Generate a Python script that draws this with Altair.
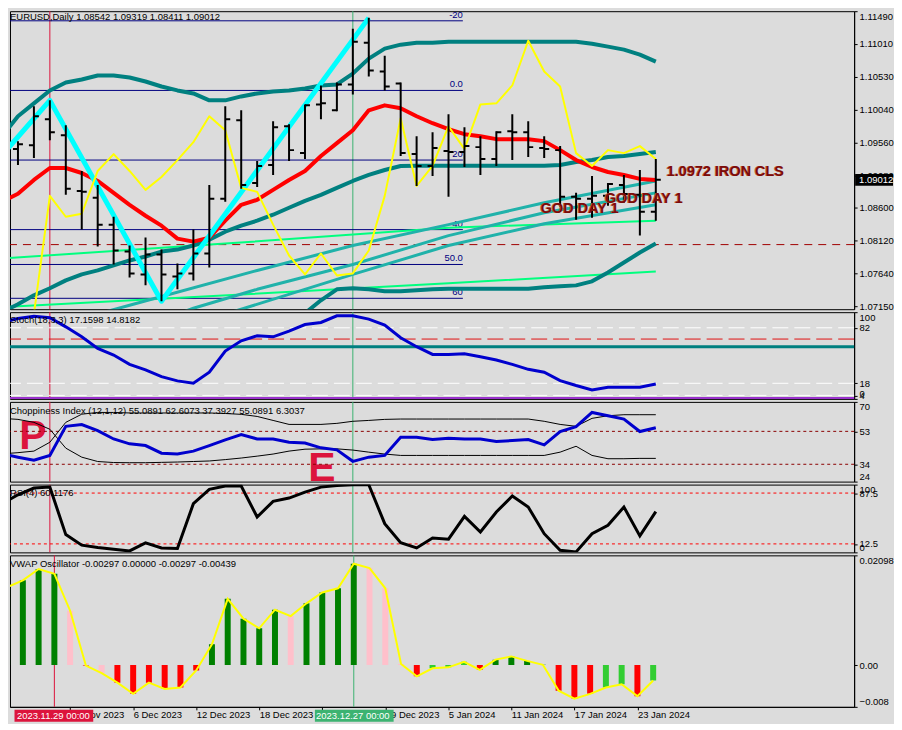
import altair as alt
import pandas as pd

# ---------------------------------------------------------------- data
dates = ["2023-11-24", "2023-11-27", "2023-11-28", "2023-11-29", "2023-11-30", "2023-12-01",
         "2023-12-04", "2023-12-05", "2023-12-06", "2023-12-07", "2023-12-08", "2023-12-11",
         "2023-12-12", "2023-12-13", "2023-12-14", "2023-12-15", "2023-12-18", "2023-12-19",
         "2023-12-20", "2023-12-21", "2023-12-22", "2023-12-26", "2023-12-27", "2023-12-28",
         "2023-12-29", "2024-01-02", "2024-01-03", "2024-01-04", "2024-01-05", "2024-01-08",
         "2024-01-09", "2024-01-10", "2024-01-11", "2024-01-12", "2024-01-15", "2024-01-16",
         "2024-01-17", "2024-01-18", "2024-01-19", "2024-01-22", "2024-01-23", "2024-01-24"]

opens = [1.09259, 1.09464, 1.09522, 1.09902, 1.09668, 1.08850, 1.08748, 1.08354, 1.07959, 1.07623,
         1.07915, 1.07594, 1.07638, 1.07930, 1.08733, 1.09888, 1.08967, 1.09230, 1.09800, 1.09405,
         1.10121, 1.10034, 1.10414, 1.11027, 1.10604, 1.10428, 1.09391, 1.09216, 1.09435, 1.09420,
         1.09493, 1.09318, 1.09727, 1.09712, 1.09479, 1.09449, 1.08763, 1.08733, 1.08777, 1.08938,
         1.08792, 1.08542]
highs = [1.09479, 1.09581, 1.10092, 1.10180, 1.09815, 1.09143, 1.08938, 1.08470, 1.08047, 1.08164,
         1.07988, 1.07784, 1.08281, 1.08938, 1.10092, 1.10034, 1.09289, 1.09873, 1.09830, 1.10121,
         1.10399, 1.10443, 1.11232, 1.11392, 1.10837, 1.10443, 1.09654, 1.09712, 1.09975, 1.09785,
         1.09654, 1.09727, 1.09975, 1.09873, 1.09654, 1.09508, 1.08821, 1.09069, 1.08967, 1.09084,
         1.09157, 1.09319]
lows = [1.08938, 1.09230, 1.09332, 1.09595, 1.08792, 1.08281, 1.08032, 1.07769, 1.07579, 1.07462,
        1.07229, 1.07404, 1.07535, 1.07725, 1.08690, 1.08880, 1.08909, 1.09084, 1.09289, 1.09318,
        1.09902, 1.10019, 1.10267, 1.10530, 1.10326, 1.09362, 1.08923, 1.09069, 1.08763, 1.09201,
        1.09084, 1.09216, 1.09303, 1.09347, 1.09332, 1.08617, 1.08427, 1.08456, 1.08631, 1.08675,
        1.08193, 1.08411]
closes = [1.09303, 1.09537, 1.09946, 1.09712, 1.08880, 1.08836, 1.08354, 1.07974, 1.07638, 1.07915,
          1.07623, 1.07638, 1.07930, 1.08733, 1.09902, 1.08938, 1.09216, 1.09785, 1.09449, 1.10107,
          1.10136, 1.10414, 1.11042, 1.10618, 1.10384, 1.09405, 1.09216, 1.09479, 1.09420, 1.09508,
          1.09318, 1.09712, 1.09712, 1.09493, 1.09464, 1.08763, 1.08733, 1.08777, 1.08953, 1.08806,
          1.08544, 1.09012]

ma_red = [1.08690, 1.08807, 1.09011, 1.09186, 1.09186, 1.09113, 1.08996, 1.08821, 1.08646, 1.08485,
          1.08339, 1.08149, 1.08105, 1.08164, 1.08412, 1.08646, 1.08719, 1.08865, 1.09011, 1.09143,
          1.09362, 1.09552, 1.09742, 1.10034, 1.10107, 1.10063, 1.09946, 1.09844, 1.09756, 1.09683,
          1.09654, 1.09610, 1.09610, 1.09610, 1.09581, 1.09449, 1.09303, 1.09201, 1.09128, 1.09084,
          1.09026, 1.09011]
band_upper = [1.09654, 1.09946, 1.10136, 1.10326, 1.10443, 1.10487, 1.10545, 1.10545, 1.10516, 1.10457,
              1.10384, 1.10326, 1.10282, 1.10180, 1.10180, 1.10238, 1.10282, 1.10311, 1.10326, 1.10355,
              1.10399, 1.10414, 1.10574, 1.10793, 1.10940, 1.10998, 1.11027, 1.11027, 1.11042, 1.11042,
              1.11042, 1.11042, 1.11042, 1.11042, 1.11042, 1.11042, 1.11042, 1.11013, 1.10969, 1.10925,
              1.10852, 1.10750]
band_mid = [1.07068, 1.07185, 1.07316, 1.07419, 1.07535, 1.07623, 1.07682, 1.07755, 1.07828, 1.07886,
            1.07959, 1.07988, 1.08047, 1.08134, 1.08251, 1.08339, 1.08412, 1.08500, 1.08602, 1.08704,
            1.08792, 1.08894, 1.08996, 1.09084, 1.09157, 1.09216, 1.09220, 1.09220, 1.09220, 1.09220,
            1.09220, 1.09220, 1.09220, 1.09220, 1.09220, 1.09230, 1.09274, 1.09303, 1.09347, 1.09362,
            1.09391, 1.09420]
band_lower_idx = list(range(18, 42))
band_lower = [1.06878, 1.07053, 1.07243, 1.07404, 1.07419, 1.07404, 1.07375, 1.07375, 1.07389, 1.07404,
              1.07411, 1.07411, 1.07411, 1.07411, 1.07411, 1.07411, 1.07433, 1.07448, 1.07462, 1.07521,
              1.07652, 1.07798, 1.07944, 1.08076]
yellow_idx = list(range(2, 42))
yellow = [1.07039, 1.08777, 1.08470, 1.08514, 1.09143, 1.09391, 1.09143, 1.08865, 1.09055, 1.09303,
          1.09566, 1.09946, 1.09742, 1.08894, 1.08836, 1.08354, 1.07901, 1.07623, 1.07930, 1.07608,
          1.07638, 1.07974, 1.08777, 1.09917, 1.08923, 1.09216, 1.09800, 1.09464, 1.10121, 1.10136,
          1.10399, 1.11056, 1.10604, 1.10384, 1.09405, 1.09216, 1.09449, 1.09405, 1.09508, 1.09318]
zigzag_idx = [0, 3, 10, 23]
zigzag = [1.09376, 1.10180, 1.07229, 1.11392]

green_a_idx = [0, 14, 28, 41]
green_a = [1.07857, 1.08076, 1.08310, 1.08412]
green_b_idx = [0, 28, 41]
green_b = [1.07141, 1.07492, 1.07667]

seagreen_1_idx = [6, 8, 16, 22, 28, 34, 41]
seagreen_1 = [1.07042, 1.07170, 1.07681, 1.08047, 1.08354, 1.08675, 1.08996]
seagreen_2_idx = [11, 12, 16, 22, 28, 34, 41]
seagreen_2 = [1.07039, 1.07126, 1.07404, 1.07769, 1.08193, 1.08529, 1.08821]
seagreen_3_idx = [14, 15, 22, 28, 34, 41]
seagreen_3 = [1.07039, 1.07112, 1.07623, 1.08047, 1.08368, 1.08646]

fib_levels = [1.11349, 1.10326, 1.09303, 1.08281, 1.07769, 1.07272]
fib_labels = ["-20", "0.0", "20", "40", "50.0", "60"]
fib_end = 28.9
dashed_level = 1.08061

price_ticks = [1.07150, 1.07640, 1.08120, 1.08600, 1.09080, 1.09560, 1.10040, 1.10530, 1.11010, 1.11490]

notes = ["1.0972 IRON CLS", "GOD DAY 1", "GOD DAY 1"]
notes_idx = [41.69, 33.79, 37.81]
notes_price = [1.09062, 1.08519, 1.08675]

marker_idx = [3, 22]
marker_labels = ["2023.11.29 00:00", "2023.12.27 00:00"]

stoch = [88.1, 92.7, 95.4, 93.5, 83.1, 71.6, 58.2, 50.6, 39.8, 33.4,
         25.7, 20.8, 18.0, 30.7, 55.2, 67.0, 72.8, 71.6, 78.2, 85.8,
         88.1, 95.8, 95.8, 92.0, 85.1, 70.5, 60.2, 51.3, 51.3, 52.1,
         48.7, 44.9, 39.8, 34.1, 30.7, 21.1, 15.4, 10.4, 13.4, 13.4,
         13.4, 17.2]
stoch_ticks = [0, 4, 18, 82, 100]

chop = [40.0, 38.1, 36.3, 39.1, 55.9, 56.9, 53.4, 48.6, 45.8, 44.8,
        40.4, 40.0, 41.6, 44.8, 48.1, 51.1, 48.6, 48.6, 46.7, 46.3,
        43.5, 42.3, 35.7, 38.1, 39.1, 49.6, 49.6, 48.3, 49.0, 48.6,
        48.6, 47.1, 47.7, 48.3, 45.2, 52.9, 55.7, 63.9, 62.0, 60.1,
        52.9, 55.1]
chop_hi = [40.0, 40.7, 41.6, 46.7, 58.2, 62.9, 63.9, 63.9, 63.6, 63.6,
           63.6, 63.6, 63.6, 63.6, 63.3, 62.8, 61.6, 59.3, 57.0, 57.0,
           57.0, 57.6, 58.8, 59.3, 59.9, 60.1, 60.1, 60.1, 60.1, 60.1,
           60.1, 60.1, 60.1, 60.1, 58.8, 57.0, 55.9, 60.5, 62.0, 62.6,
           62.6, 62.6]
chop_lo = [60.5, 59.9, 58.2, 54.2, 43.3, 38.1, 35.6, 35.0, 34.9, 34.9,
           35.1, 35.3, 35.6, 35.9, 36.7, 37.6, 38.7, 39.9, 41.6, 42.7,
           42.9, 42.9, 42.2, 41.0, 39.9, 39.1, 39.1, 39.1, 39.1, 39.1,
           39.1, 39.1, 39.1, 39.1, 39.1, 41.0, 44.4, 39.1, 37.2, 37.2,
           37.4, 37.4]
chop_ticks = [24, 34, 53, 70]
pe_letters = ["P", "E"]
pe_idx = [1.94, 20.06]
pe_value = [42.7, 24.4]

rsi = [71.8, 85.0, 94.9, 96.3, 26.2, 10.6, 7.1, 4.7, 2.2, 14.0,
       6.6, 5.6, 71.8, 92.9, 97.8, 97.8, 52.2, 75.3, 80.1, 89.0,
       96.3, 98.8, 99.7, 99.7, 42.4, 14.4, 6.6, 21.3, 19.4, 53.2,
       30.1, 59.6, 83.1, 66.9, 27.6, 3.2, 0.7, 27.6, 40.0, 66.9,
       24.3, 60.1]
rsi_ticks = [0, 12.5, 87.5, 100]

vwap = [0.01487, 0.01621, 0.01836, 0.01744, 0.01039, -0.0001, -0.00154, -0.00338, -0.00551, -0.00338,
        -0.00459, -0.00429, -0.00105, 0.00397, 0.01266, 0.00887, 0.00703, 0.01058, 0.00936, 0.01180,
        0.01388, 0.01468, 0.01938, 0.01854, 0.01468, 0.0002, -0.00215, -0.00062, -0.00044, 0.00061,
        -0.00092, 0.00103, 0.00165, 0.00079, 0.00005, -0.0049, -0.00642, -0.00551, -0.0043, -0.00367,
        -0.00595, -0.00297]
vwap_kind = ["G", "G", "G", "G", "P", "R", "P", "R", "R", "R",
             "R", "R", "R", "G", "G", "G", "G", "G", "P", "G",
             "G", "G", "G", "P", "P", "P", "R", "L", "L", "L",
             "R", "G", "G", "G", "G", "R", "R", "R", "L", "L",
             "R", "L"]
vwap_ticks = [-0.008, 0.0, 0.02098]

date_tick_idx = [0, 4, 8, 12, 16, 20, 24, 28, 32, 36, 40]
date_tick_labels = ["24 Nov 2023", "30 Nov 2023", "6 Dec 2023", "12 Dec 2023", "18 Dec 2023",
                    "22 Dec 2023", "29 Dec 2023", "5 Jan 2024", "11 Jan 2024", "17 Jan 2024",
                    "23 Jan 2024"]

hdr_main = "EURUSD,Daily  1.08542 1.09319 1.08411 1.09012"
hdr_stoch = "Stoch(18,3,3) 17.1598 14.8182"
hdr_chop = "Choppiness Index (12,1,12) 55.0891 62.6073 37.3927 55.0891 6.3037"
hdr_rsi = "RSI(4) 60.1176"
hdr_vwap = "VWAP Oscillator -0.00297 0.00000 -0.00297 -0.00439"

# ---------------------------------------------------------------- styling
FONT = "Liberation Sans"
FS = 9.5
BG = "#dcdcdc"
W = 847
N = len(dates)
idx = list(range(N))

xscale = alt.Scale(domain=[0.5, 53.4375], nice=False, zero=False)

label_arr = "[" + ",".join("'" + s + "'" for s in date_tick_labels) + "]"
x_axis = alt.Axis(values=date_tick_idx, labelExpr=label_arr + "[round(datum.value / 4)]",
                  labelAlign="left", labelPadding=0, tickSize=3, labelFont=FONT,
                  labelFontSize=FS, labelColor="black", tickColor="black", domainColor="black",
                  grid=False, title=None, labelOverlap=False, labelFlush=False, labelBound=False)


def X(f="i"):
    return alt.X(f"{f}:Q", scale=xscale, axis=None, title=None)


def XB(f="i"):
    return alt.X(f"{f}:Q", scale=xscale, axis=x_axis, title=None)


def side_axis(values, fmt=None, expr=None):
    kw = dict(orient="right", values=values, title=None, grid=False, tickSize=3,
              labelPadding=2, labelFont=FONT, labelFontSize=FS, labelColor="black",
              tickColor="black", domainColor="black", labelOverlap=False, labelFlush=True)
    if fmt:
        kw["format"] = fmt
    if expr:
        kw["labelExpr"] = expr
    return alt.Axis(**kw)


def df_line(xs, vs):
    return pd.DataFrame({"i": xs, "v": vs})


def markers(xf=X):
    a = alt.Chart(pd.DataFrame({"i": [marker_idx[0]]})).mark_rule(
        color="#dc143c", strokeWidth=1).encode(x=xf())
    b = alt.Chart(pd.DataFrame({"i": [marker_idx[1]]})).mark_rule(
        color="#3cb371", strokeWidth=1).encode(x=xf())
    return [a, b]


def header(text, ypix):
    return alt.Chart(pd.DataFrame({"t": [text]})).mark_text(
        align="left", baseline="middle", font=FONT, fontSize=FS, color="black"
    ).encode(x=alt.value(0), y=alt.value(ypix), text="t:N")


def hrule(level, yfun, color, width, dash=None):
    kw = dict(color=color, strokeWidth=width)
    if dash:
        kw["strokeDash"] = dash
    return alt.Chart(pd.DataFrame({"v": [level]})).mark_rule(**kw).encode(y=yfun("v"))


# ---------------------------------------------------------------- main panel
ms = alt.Scale(domain=[1.07112, 1.11490], nice=False, zero=False)
m_axis = side_axis(price_ticks, fmt=".5f")


def YM(f):
    return alt.Y(f"{f}:Q", scale=ms, axis=m_axis, title=None)


bars_df = pd.DataFrame({"i": idx, "o": opens, "h": highs, "l": lows, "c": closes})

fib_df = pd.DataFrame({"x0": [0] * len(fib_levels), "x1": [fib_end] * len(fib_levels),
                       "v": fib_levels, "lab": fib_labels})
fib_lines = alt.Chart(fib_df).mark_rule(color="#000080", strokeWidth=1, clip=True).encode(
    x=X("x0"), x2="x1", y=YM("v"))
fib_text = alt.Chart(fib_df).mark_text(
    align="right", baseline="bottom", dy=-1, font=FONT, fontSize=FS, color="#000080"
).encode(x=X("x1"), y=YM("v"), text="lab:N")

dash_line = hrule(dashed_level, YM, "#a00000", 1, [8, 6])


def mline(xs, vs, color, width):
    return alt.Chart(df_line(xs, vs)).mark_line(
        color=color, strokeWidth=width, clip=True, strokeJoin="round"
    ).encode(x=X(), y=YM("v"))


lines_main = [
    mline(green_a_idx, green_a, "#00ff7f", 2),
    mline(green_b_idx, green_b, "#00ff7f", 2),
    mline(seagreen_1_idx, seagreen_1, "#20b2aa", 3),
    mline(seagreen_2_idx, seagreen_2, "#20b2aa", 3),
    mline(seagreen_3_idx, seagreen_3, "#20b2aa", 3),
    mline(idx, band_upper, "#008080", 4),
    mline(idx, band_mid, "#008080", 4),
    mline(band_lower_idx, band_lower, "#008080", 4),
    mline(idx, ma_red, "#ff0000", 4),
    mline(zigzag_idx, zigzag, "#00ffff", 5),
    mline(yellow_idx, yellow, "#ffff00", 2),
]

ohlc_body = alt.Chart(bars_df).mark_rule(color="black", strokeWidth=2, clip=True).encode(
    x=X(), y=YM("l"), y2="h")
ohlc_open = alt.Chart(bars_df).mark_rule(color="black", strokeWidth=2, xOffset=-5, clip=True).encode(
    x=X(), x2="i", y=YM("o"))
ohlc_close = alt.Chart(bars_df).mark_rule(color="black", strokeWidth=2, x2Offset=5, clip=True).encode(
    x=X(), x2="i", y=YM("c"))

notes_df = pd.DataFrame({"i": notes_idx, "v": notes_price, "t": notes})
notes_shadow = alt.Chart(notes_df).mark_text(
    align="left", baseline="alphabetic", font=FONT, fontSize=14.5, fontWeight="bold",
    color="#c8643c", dx=-1
).encode(x=X(), y=YM("v"), text="t:N")
notes_text = alt.Chart(notes_df).mark_text(
    align="left", baseline="alphabetic", font=FONT, fontSize=14.5, fontWeight="bold",
    color="#7a0c0c"
).encode(x=X(), y=YM("v"), text="t:N")

last_df = pd.DataFrame({"v": [closes[-1]], "t": [f"{closes[-1]:.5f}"]})
last_box = alt.Chart(last_df).mark_rect(color="black", yOffset=-6, y2Offset=6).encode(
    x=alt.value(848), x2=alt.value(886), y=YM("v"), y2="v")
last_text = alt.Chart(last_df).mark_text(
    align="left", baseline="middle", font=FONT, fontSize=FS, color="white"
).encode(x=alt.value(852), y=YM("v"), text="t:N")

main = alt.layer(
    *markers(), fib_lines, fib_text, dash_line, *lines_main,
    ohlc_body, ohlc_open, ohlc_close, notes_shadow, notes_text,
    header(hdr_main, 6), last_box, last_text
).properties(width=W, height=299)

# ---------------------------------------------------------------- stochastic
ss = alt.Scale(domain=[0, 100], nice=False, zero=False)
s_axis = side_axis(stoch_ticks)


def YS(f):
    return alt.Y(f"{f}:Q", scale=ss, axis=s_axis, title=None)


stoch_panel = alt.layer(
    *markers(),
    hrule(82, YS, "white", 1, [16, 6]),
    hrule(18, YS, "white", 1, [16, 6]),
    hrule(4, YS, "white", 1, [16, 6]),
    hrule(69, YS, "#e01010", 1, [16, 6]),
    hrule(60, YS, "#008080", 3),
    hrule(1, YS, "#9932cc", 2),
    alt.Chart(df_line(idx, stoch)).mark_line(color="#0000cd", strokeWidth=3, clip=True).encode(
        x=X(), y=YS("v")),
    header(hdr_stoch, 8),
).properties(width=W, height=87)

# ---------------------------------------------------------------- choppiness
cs = alt.Scale(domain=[24, 70], nice=False, zero=False)
c_axis = side_axis(chop_ticks)


def YC(f):
    return alt.Y(f"{f}:Q", scale=cs, axis=c_axis, title=None)


pe_df = pd.DataFrame({"i": pe_idx, "v": pe_value, "t": pe_letters})
chop_panel = alt.layer(
    *markers(),
    alt.Chart(pe_df).mark_text(align="center", baseline="alphabetic", font=FONT,
                               fontSize=41, fontWeight="bold", color="#dc143c").encode(
        x=X(), y=YC("v"), text="t:N"),
    hrule(53, YC, "#8b0000", 1, [3, 3]),
    hrule(34, YC, "#8b0000", 1, [3, 3]),
    alt.Chart(df_line(idx, chop_hi)).mark_line(color="black", strokeWidth=1, clip=True).encode(
        x=X(), y=YC("v")),
    alt.Chart(df_line(idx, chop_lo)).mark_line(color="black", strokeWidth=1, clip=True).encode(
        x=X(), y=YC("v")),
    alt.Chart(df_line(idx, chop)).mark_line(color="#0000cd", strokeWidth=3, clip=True).encode(
        x=X(), y=YC("v")),
    header(hdr_chop, 9),
).properties(width=W, height=80)

# ---------------------------------------------------------------- RSI
rs = alt.Scale(domain=[0, 100], nice=False, zero=False)
r_axis = side_axis(rsi_ticks, expr="datum.value == 87.5 ? '87.5' : (datum.value == 12.5 ? '12.5' : format(datum.value, 'd'))")


def YR(f):
    return alt.Y(f"{f}:Q", scale=rs, axis=r_axis, title=None)


rsi_panel = alt.layer(
    *markers(),
    hrule(87.5, YR, "#ff0000", 1, [3, 3]),
    hrule(12.5, YR, "#ff0000", 1, [3, 3]),
    alt.Chart(df_line(idx, rsi)).mark_line(color="black", strokeWidth=3, clip=True).encode(
        x=X(), y=YR("v")),
    header(hdr_rsi, 8),
).properties(width=W, height=68)

# ---------------------------------------------------------------- VWAP oscillator
vs = alt.Scale(domain=[-0.008, 0.02098], nice=False, zero=False)
v_expr = ("datum.value == 0 ? '0.00' : (datum.value < 0 ? format(datum.value, '.3f') "
          ": format(datum.value, '.5f'))")
v_axis = side_axis(vwap_ticks, expr=v_expr)


def YV(f):
    return alt.Y(f"{f}:Q", scale=vs, axis=v_axis, title=None)


vwap_df = pd.DataFrame({"i": idx, "v": vwap, "k": vwap_kind})
stamp_df = pd.DataFrame({"i": marker_idx, "t": marker_labels})

vwap_panel = alt.layer(
    *markers(XB),
    alt.Chart(vwap_df).mark_bar(size=6, clip=True).encode(
        x=XB(),
        y=YV("v"), y2=alt.datum(0),
        color=alt.Color("k:N", scale=alt.Scale(domain=["G", "L", "R", "P"],
                                               range=["#008000", "#32cd32", "#ff0000", "#ffc0cb"]),
                        legend=None)),
    alt.Chart(vwap_df).mark_line(color="#ffff00", strokeWidth=2, clip=True).encode(
        x=XB(), y=YV("v")),
    header(hdr_vwap, 9),
    alt.Chart(stamp_df.iloc[[0]]).mark_rect(color="#dc143c", xOffset=-40, x2Offset=39).encode(
        x=XB(), x2="i", y=alt.value(155), y2=alt.value(167)),
    alt.Chart(stamp_df.iloc[[1]]).mark_rect(color="#3cb371", xOffset=-39, x2Offset=40).encode(
        x=XB(), x2="i", y=alt.value(155), y2=alt.value(167)),
    alt.Chart(stamp_df).mark_text(align="center", baseline="middle", font=FONT, fontSize=FS,
                                  color="white", dx=-1).encode(
        x=XB(), y=alt.value(161), text="t:N"),
).properties(width=W, height=152)

chart = alt.vconcat(main, stoch_panel, chop_panel, rsi_panel, vwap_panel,
                    spacing=3, bounds="flush").properties(
    padding=0,
    background=BG,
).configure_view(
    stroke="black", strokeWidth=1, fill=BG
).configure_axis(grid=False)

chart.save("out.html", embed_options={"renderer": "svg", "actions": False})
